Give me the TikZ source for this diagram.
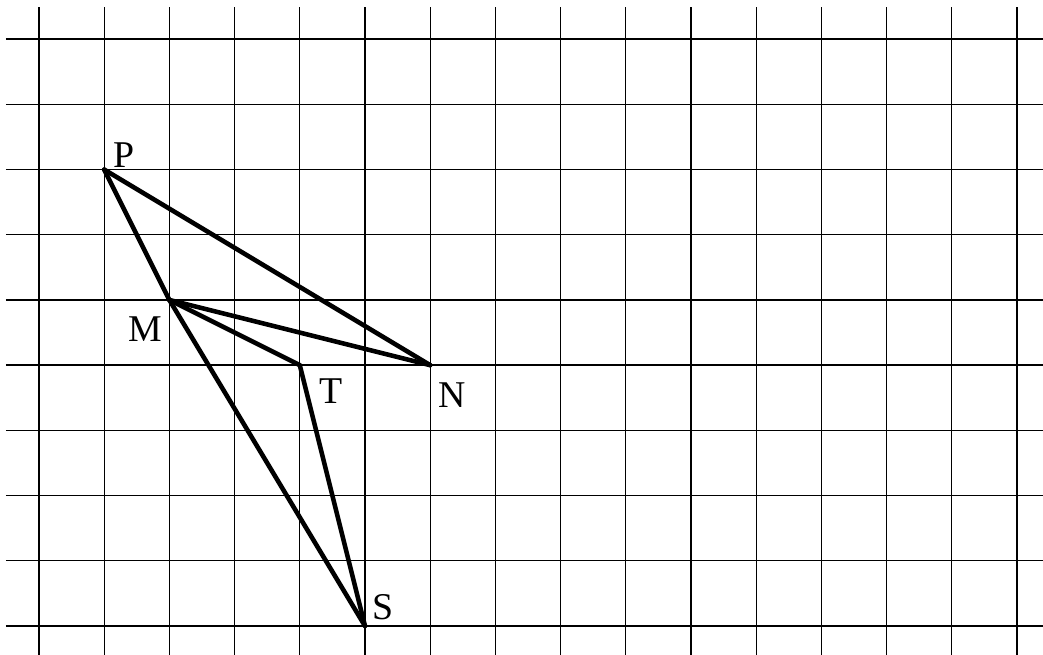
\documentclass[tikz,border=0pt]{standalone}
\usepackage{fontspec}
\setmainfont{Liberation Serif}
\usepackage{tikz}

\begin{document}
\begin{tikzpicture}[x=1cm, y=1cm,
    gridline/.style={black, line width=0.6pt},
    side/.style={black, line width=2pt, line join=round, line cap=round},
    lbl/.style={font=\fontsize{16.5}{20}\selectfont, inner sep=0pt}]
  % Rahmen
  \useasboundingbox (-0.598,-0.445) rectangle (15.399,9.601);

  % Gitter
  \foreach \i in {0,...,9}
    \draw[gridline] (-0.506,\i) -- (15.399,\i);
  \foreach \i in {0,...,15}
    \draw[gridline] (\i,-0.445) -- (\i,9.494);

  % Punkte
  \coordinate (P) at (1,7);
  \coordinate (M) at (2,5);
  \coordinate (T) at (4,4);
  \coordinate (N) at (6,4);
  \coordinate (S) at (5,0);

  % Strecken
  \draw[side] (P) -- (N);
  \draw[side] (P) -- (M);
  \draw[side] (M) -- (N);
  \draw[side] (M) -- (T);
  \draw[side] (T) -- (S);
  \draw[side] (M) -- (S);

  % Beschriftung
  \node[lbl] (lP) at (1.30,7.22) {P};
  \node[lbl] (lM) at (1.63,4.56) {M};
  \node[lbl] (lT) at (4.48,3.60) {T};
  \node[lbl] (lN) at (6.33,3.54) {N};
  \node[lbl] (lS) at (5.28,0.29) {S};
\end{tikzpicture}
\end{document}
